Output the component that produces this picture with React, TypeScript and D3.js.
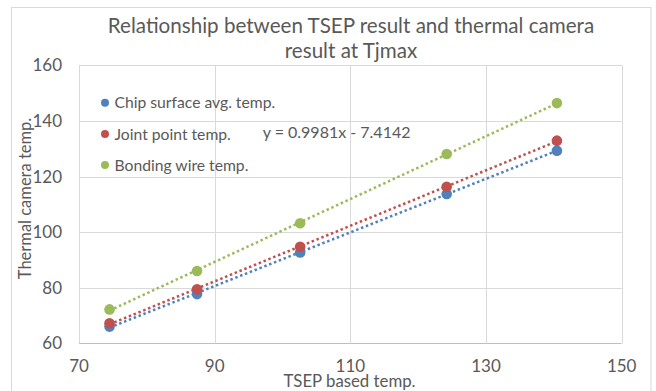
import React from "react";
import * as d3 from "d3";

const tsep = [74.5, 87.4, 102.6, 124.2, 140.45];
const chipSurface = [66.0, 77.7, 92.7, 113.7, 129.3];
const jointPoint = [67.2, 79.4, 94.7, 116.3, 132.9];
const bondingWire = [72.2, 86.0, 103.2, 128.1, 146.4];

const seriesNames = ["Chip surface avg. temp.", "Joint point temp.", "Bonding wire temp."];
const seriesColors = ["#4F81BD", "#C0504D", "#9BBB59"];
const xTicks = [70, 90, 110, 130, 150];
const yTicks = [60, 80, 100, 120, 140, 160];
const titleLines = ["Relationship between TSEP result and thermal camera", "result at Tjmax"];
const equationText = "y = 0.9981x - 7.4142";

const W = 656;
const H = 391;
const FONT = "Lato, 'Open Sans', sans-serif";
const TEXT = "#595959";

function fit(xs: number[], ys: number[]) {
  const mx = d3.mean(xs)!;
  const my = d3.mean(ys)!;
  let num = 0, den = 0;
  xs.forEach((x, i) => {
    num += (x - mx) * (ys[i] - my);
    den += (x - mx) * (x - mx);
  });
  const b = num / den;
  return { b, a: my - b * mx };
}

export default function App() {
  const x = d3.scaleLinear().domain([70, 150]).range([79, 621.7]);
  const y = d3.scaleLinear().domain([60, 160]).range([343.3, 65.3]);
  const allSeries = [chipSurface, jointPoint, bondingWire];
  const line = d3.line<[number, number]>().x((d) => x(d[0])).y((d) => y(d[1]));
  const xMin = d3.min(tsep)!;
  const xMax = d3.max(tsep)!;

  return (
    <svg width={W} height={H} style={{ position: "absolute", left: 0, top: 0, background: "#fff" }} fontFamily={FONT}>
      <rect x={0} y={0} width={W} height={H} fill="#fff" />
      <rect x={11.5} y={7.5} width={639.5} height={400} fill="none" stroke="#d9d9d9" strokeWidth={1} />
      {titleLines.map((t, i) => (
        <text key={t} x={351} y={32.5 + i * 25.5} textAnchor="middle" fontSize={20.6} fill={TEXT}>
          {t}
        </text>
      ))}
      {/* gridlines */}
      {yTicks.map((t) => (
        <line key={"gy" + t} x1={x(70)} x2={x(150)} y1={Math.round(y(t)) + 0.5} y2={Math.round(y(t)) + 0.5}
          stroke={t === 60 ? "#bfbfbf" : "#d9d9d9"} strokeWidth={1} />
      ))}
      {xTicks.map((t) => (
        <line key={"gx" + t} x1={Math.round(x(t)) + 0.5} x2={Math.round(x(t)) + 0.5} y1={y(160)} y2={y(60)}
          stroke="#d9d9d9" strokeWidth={1} />
      ))}
      {/* tick labels */}
      {yTicks.map((t) => (
        <text key={"ly" + t} x={62} y={y(t)} dy="0.36em" textAnchor="end" fontSize={17} fill={TEXT}>
          {t}
        </text>
      ))}
      {xTicks.map((t) => (
        <text key={"lx" + t} x={x(t)} y={372} textAnchor="middle" fontSize={17} fill={TEXT}>
          {t}
        </text>
      ))}
      {/* axis titles */}
      <text x={349.5} y={387} textAnchor="middle" fontSize={16.8} fill={TEXT}>TSEP based temp.</text>
      <text transform={`translate(31,198.5) rotate(-90)`} textAnchor="middle" fontSize={16.5} fill={TEXT}>
        Thermal camera temp.
      </text>
      {/* trendlines */}
      {allSeries.map((s, i) => {
        const { a, b } = fit(tsep, s);
        return (
          <path key={"t" + i} d={line([[xMin, a + b * xMin], [xMax, a + b * xMax]])!} fill="none"
            stroke={seriesColors[i]} strokeWidth={2.5} strokeDasharray="2.5 2.7" />
        );
      })}
      {/* markers */}
      {allSeries.map((s, i) => (
        <g key={"m" + i}>
          {s.map((v, j) => (
            <circle key={j} cx={x(tsep[j])} cy={y(v)} r={5.3} fill={seriesColors[i]} />
          ))}
        </g>
      ))}
      {/* legend */}
      {seriesNames.map((n, i) => (
        <g key={n}>
          <circle cx={105} cy={102.7 + i * 31.2} r={4} fill={seriesColors[i]} />
          <text x={114.5} y={102.7 + i * 31.2} dy="0.36em" fontSize={15.7} fill={TEXT}>{n}</text>
        </g>
      ))}
      <text x={262.7} y={132.7} dy="0.36em" fontSize={16} fill={TEXT}>{equationText}</text>
    </svg>
  );
}
